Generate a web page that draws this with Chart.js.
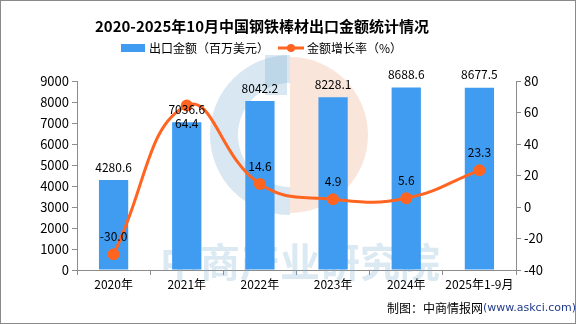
<!DOCTYPE html>
<html>
<head>
<meta charset="utf-8">
<script src="https://cdn.jsdelivr.net/npm/chart.js@4"></script>
<style>
  html, body { margin: 0; padding: 0; background: #fff; }
  #wrap { width: 576px; height: 324px; position: relative; }
</style>
</head>
<body>
<div id="wrap"><canvas id="chart" width="576" height="324"></canvas></div>
<script>
// chart data
const categories = ["2020年", "2021年", "2022年", "2023年", "2024年", "2025年1-9月"]
const exportValue = [4280.6, 7036.6, 8042.2, 8228.1, 8688.6, 8677.5]
const growthRate = [-30.0, 64.4, 14.6, 4.9, 5.6, 23.3]
const leftTicks = [0, 1000, 2000, 3000, 4000, 5000, 6000, 7000, 8000, 9000]
const rightTicks = [-40, -20, 0, 20, 40, 60, 80]

const barColor = "#3F9CF1"
const lineColor = "#FF6520"
const cjk = "'Noto Sans CJK SC', 'DejaVu Sans', sans-serif"

// title, legend, watermark, labels and footer
const decor = {
  id: "decor",
  beforeDatasetsDraw(chart) {
    const ctx = chart.ctx
    ctx.save()
    // faint logo
    ctx.globalAlpha = 0.22
    ctx.fillStyle = "#E8885A"
    ctx.beginPath()
    ctx.arc(290, 135, 78, -Math.PI / 2, Math.PI / 2)
    ctx.closePath()
    ctx.fill()
    ctx.globalAlpha = 0.3
    ctx.fillStyle = "#7FAFD0"
    ctx.beginPath()
    ctx.arc(290, 135, 80, Math.PI * 0.5, Math.PI * 1.5)
    ctx.arc(290, 135, 52, Math.PI * 1.5, Math.PI * 0.5, true)
    ctx.closePath()
    ctx.fill()
    ctx.fillRect(265, 55, 22, 40)
    // watermark text
    ctx.globalAlpha = 0.28
    ctx.font = "bold 40px " + cjk
    ctx.textAlign = "center"
    ctx.textBaseline = "middle"
    ctx.fillText("中商产业研究院", 300, 262)
    ctx.restore()
  },
  afterDraw(chart) {
    const ctx = chart.ctx
    ctx.save()
    // title
    ctx.fillStyle = "#000"
    ctx.textAlign = "center"
    ctx.textBaseline = "middle"
    ctx.font = "bold 15px " + cjk
    ctx.fillText("2020-2025年10月中国钢铁棒材出口金额统计情况", 262, 26)

    // legend
    ctx.font = "12px " + cjk
    ctx.textAlign = "left"
    ctx.fillStyle = barColor
    ctx.fillRect(121, 44, 24, 8)
    ctx.fillStyle = "#000"
    ctx.fillText("出口金额（百万美元）", 149, 48)
    ctx.strokeStyle = lineColor
    ctx.lineWidth = 3
    ctx.beginPath()
    ctx.moveTo(278, 48)
    ctx.lineTo(304, 48)
    ctx.stroke()
    ctx.fillStyle = lineColor
    ctx.beginPath()
    ctx.arc(291, 48, 4, 0, Math.PI * 2)
    ctx.fill()
    ctx.fillStyle = "#000"
    ctx.fillText("金额增长率（%）", 307, 48)

    // value labels
    const lineMeta = chart.getDatasetMeta(0)
    const barMeta = chart.getDatasetMeta(1)
    ctx.font = "12px " + cjk
    ctx.textAlign = "center"
    ctx.fillStyle = "#000"
    barMeta.data.forEach((bar, i) => {
      ctx.fillText(exportValue[i].toFixed(1), bar.x, bar.y - 13)
    })
    lineMeta.data.forEach((pt, i) => {
      const barTop = barMeta.data[i].y
      const y = pt.y < barTop ? pt.y + 18 : pt.y - 18
      ctx.fillText(growthRate[i].toFixed(1), pt.x, y)
    })

    // footer
    ctx.textAlign = "left"
    ctx.font = "12px " + cjk
    ctx.fillStyle = "#000"
    ctx.fillText("制图：中商情报网", 387, 308)
    ctx.font = "11px 'DejaVu Sans', sans-serif"
    ctx.fillStyle = "#1F3A8A"
    ctx.fillText("(www.askci.com)", 483, 308)

    // outer frame
    ctx.strokeStyle = "#8A8A8A"
    ctx.lineWidth = 1
    ctx.strokeRect(0.5, 0.5, 575, 323)
    ctx.restore()
  }
}

const axisColor = "#8C8C8C"

new Chart(document.getElementById("chart"), {
  data: {
    labels: categories,
    datasets: [
      {
        type: "line",
        label: "金额增长率（%）",
        data: growthRate,
        yAxisID: "yRight",
        borderColor: lineColor,
        backgroundColor: lineColor,
        borderWidth: 3,
        pointRadius: 4.5,
        pointHoverRadius: 4.5,
        tension: 0.45,
        order: 0
      },
      {
        type: "bar",
        label: "出口金额（百万美元）",
        data: exportValue,
        yAxisID: "yLeft",
        backgroundColor: barColor,
        categoryPercentage: 0.4,
        barPercentage: 1,
        order: 1
      }
    ]
  },
  options: {
    responsive: false,
    animation: false,
    layout: { padding: { top: 81, left: 0, right: 0, bottom: 0 } },
    plugins: {
      legend: { display: false },
      title: { display: false },
      tooltip: { enabled: false }
    },
    scales: {
      x: {
        offset: true,
        grid: { offset: true, drawOnChartArea: false, drawTicks: true, tickLength: 5, color: axisColor },
        border: { color: axisColor },
        ticks: { color: "#000", font: { family: cjk, size: 12 }, padding: 2, maxRotation: 0 },
        afterFit(s) { s.height = 54 }
      },
      yLeft: {
        position: "left",
        min: 0,
        max: 9000,
        afterBuildTicks(s) { s.ticks = leftTicks.map((v) => ({ value: v })) },
        grid: { drawOnChartArea: false, drawTicks: true, tickLength: 5, color: axisColor },
        border: { color: axisColor },
        ticks: { color: "#000", font: { family: cjk, size: 13 }, padding: 3, callback: (v) => String(v) },
        afterFit(s) { s.width = 77 }
      },
      yRight: {
        position: "right",
        min: -40,
        max: 80,
        afterBuildTicks(s) { s.ticks = rightTicks.map((v) => ({ value: v })) },
        grid: { drawOnChartArea: false, drawTicks: true, tickLength: 5, color: axisColor },
        border: { color: axisColor },
        ticks: { color: "#000", font: { family: cjk, size: 13 }, padding: 3, callback: (v) => String(v) },
        afterFit(s) { s.width = 60 }
      }
    }
  },
  plugins: [decor]
})
</script>
</body>
</html>
